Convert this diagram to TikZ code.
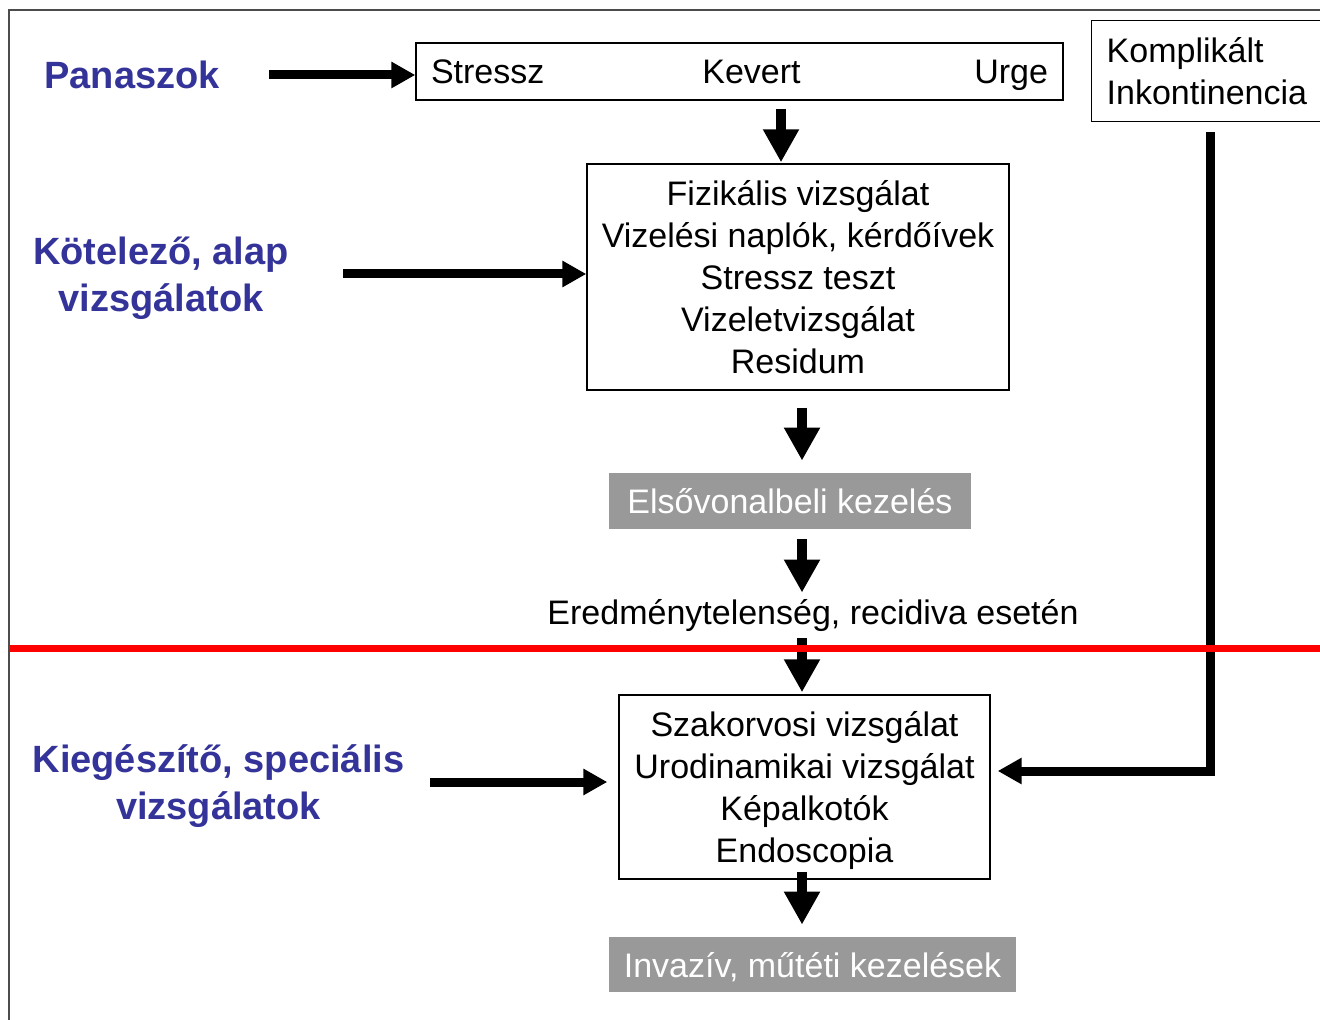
\documentclass[tikz,border=0pt]{standalone}
\usepackage{fontspec}
\setmainfont{Liberation Sans}
\usepackage{tikz}
\usetikzlibrary{calc,arrows.meta}
\definecolor{fejkek}{RGB}{51,51,153}
\definecolor{kezszurke}{RGB}{153,153,153}
\tikzset{
	fejlec/.style={text=fejkek, font=\fontsize{19}{23.5}\selectfont\bfseries, align=center, inner sep=0pt},
	sima/.style={font=\fontsize{17}{21}\selectfont, inner sep=0pt},
	doboz/.style={draw, line width=0.7pt, font=\fontsize{17}{21}\selectfont, inner sep=0pt, align=center},
	kezeles/.style={fill=kezszurke, text=white, font=\fontsize{17}{21}\selectfont, inner sep=0pt},
	nyil/.style={line width=4.5pt, -{Triangle[width=12.5pt,length=12pt]}},
	lenyil/.style={line width=5pt, -{Triangle[width=17pt,length=16.5pt]}}
}

\begin{document}
\begin{tikzpicture}[x=0.5pt, y=-0.5pt]
		%%%%% START %%%%%
		
		\useasboundingbox (0,0) rectangle (1320,1020);
		\draw[line width=1pt, color=black!70] (9,1020) -- (9,10) -- (1320,10);
		
		\node[fejlec] (panaszok) at (132,75) {Panaszok};
		\node[fejlec] (kotelezo) at (161,278) {Kötelező, alap\\vizsgálatok};
		\node[fejlec] (kiegeszito) at (218.5,786) {Kiegészítő, speciális\\vizsgálatok};
		
		\node[doboz, minimum width=323.5pt, minimum height=28.5pt, text width=308.5pt, text depth=0pt, inner xsep=7.5pt, align=left] (tipusok) at (739.5,71.5) {Stressz\hspace{79pt}Kevert\hfill Urge};
		\node[doboz, minimum width=211pt, minimum height=113pt] (alapvizsg) at (798,277) {Fizikális vizsgálat\\Vizelési naplók, kérdőívek\\Stressz teszt\\Vizeletvizsgálat\\Residum};
		\node[kezeles, minimum width=181pt, minimum height=28pt] (elsovonal) at (790,501) {Elsővonalbeli kezelés};
		\node[sima] (eredmeny) at (813,616) {Eredménytelenség, recidiva esetén};
		\node[doboz, minimum width=185.5pt, minimum height=92pt, text depth=0pt] (specvizsg) at (804.5,787) {Szakorvosi vizsgálat\\Urodinamikai vizsgálat\\Képalkotók\\Endoscopia};
		\node[kezeles, minimum width=203.5pt, minimum height=27.5pt, text depth=0pt] (invaziv) at (812.5,964.5) {Invazív, műtéti kezelések};
		\node[doboz, anchor=north west, text width=110pt, inner xsep=7.5pt, minimum height=50.5pt, align=left] (komplikalt) at (1091,20) {Komplikált\\Inkontinencia};
		
		% oldalso nyilak
		\draw[nyil] ($(panaszok.east)+(49,0)$) -- (tipusok.west |- panaszok.east);
		\draw[nyil] ($(kotelezo.east)+(54,-4)$) -- ($(alapvizsg.west |- kotelezo.east)+(0,-4)$);
		\draw[nyil] ($(kiegeszito.east)+(25,-4)$) -- ($(specvizsg.west |- kiegeszito.east)+(-11,-4)$);
		\draw[nyil] ($(komplikalt.south west)+(119,10)$) |- ($(specvizsg.east)+(7,-16)$);
		
		% lefele nyilak
		\draw[lenyil] ($(tipusok.south)+(41.5,8)$) -- ($(alapvizsg.north)+(-17,-1)$);
		\draw[lenyil] ($(alapvizsg.south)+(4,17)$) -- ($(elsovonal.north)+(12,-12)$);
		\draw[lenyil] ($(elsovonal.south)+(12,10)$) -- ($(eredmeny.north)+(-11,-7)$);
		\draw[lenyil] ($(eredmeny.south)+(-11,6)$) -- ($(specvizsg.north)+(-2.5,-2)$);
		\draw[lenyil] ($(specvizsg.south)+(-2.5,-8)$) -- ($(invaziv.north)+(-10.5,-12)$);
		
		\draw[line width=3.5pt, color=red] (9,648) -- (1320,648);
		
		%%%%% END %%%%%
\end{tikzpicture}
\end{document}
